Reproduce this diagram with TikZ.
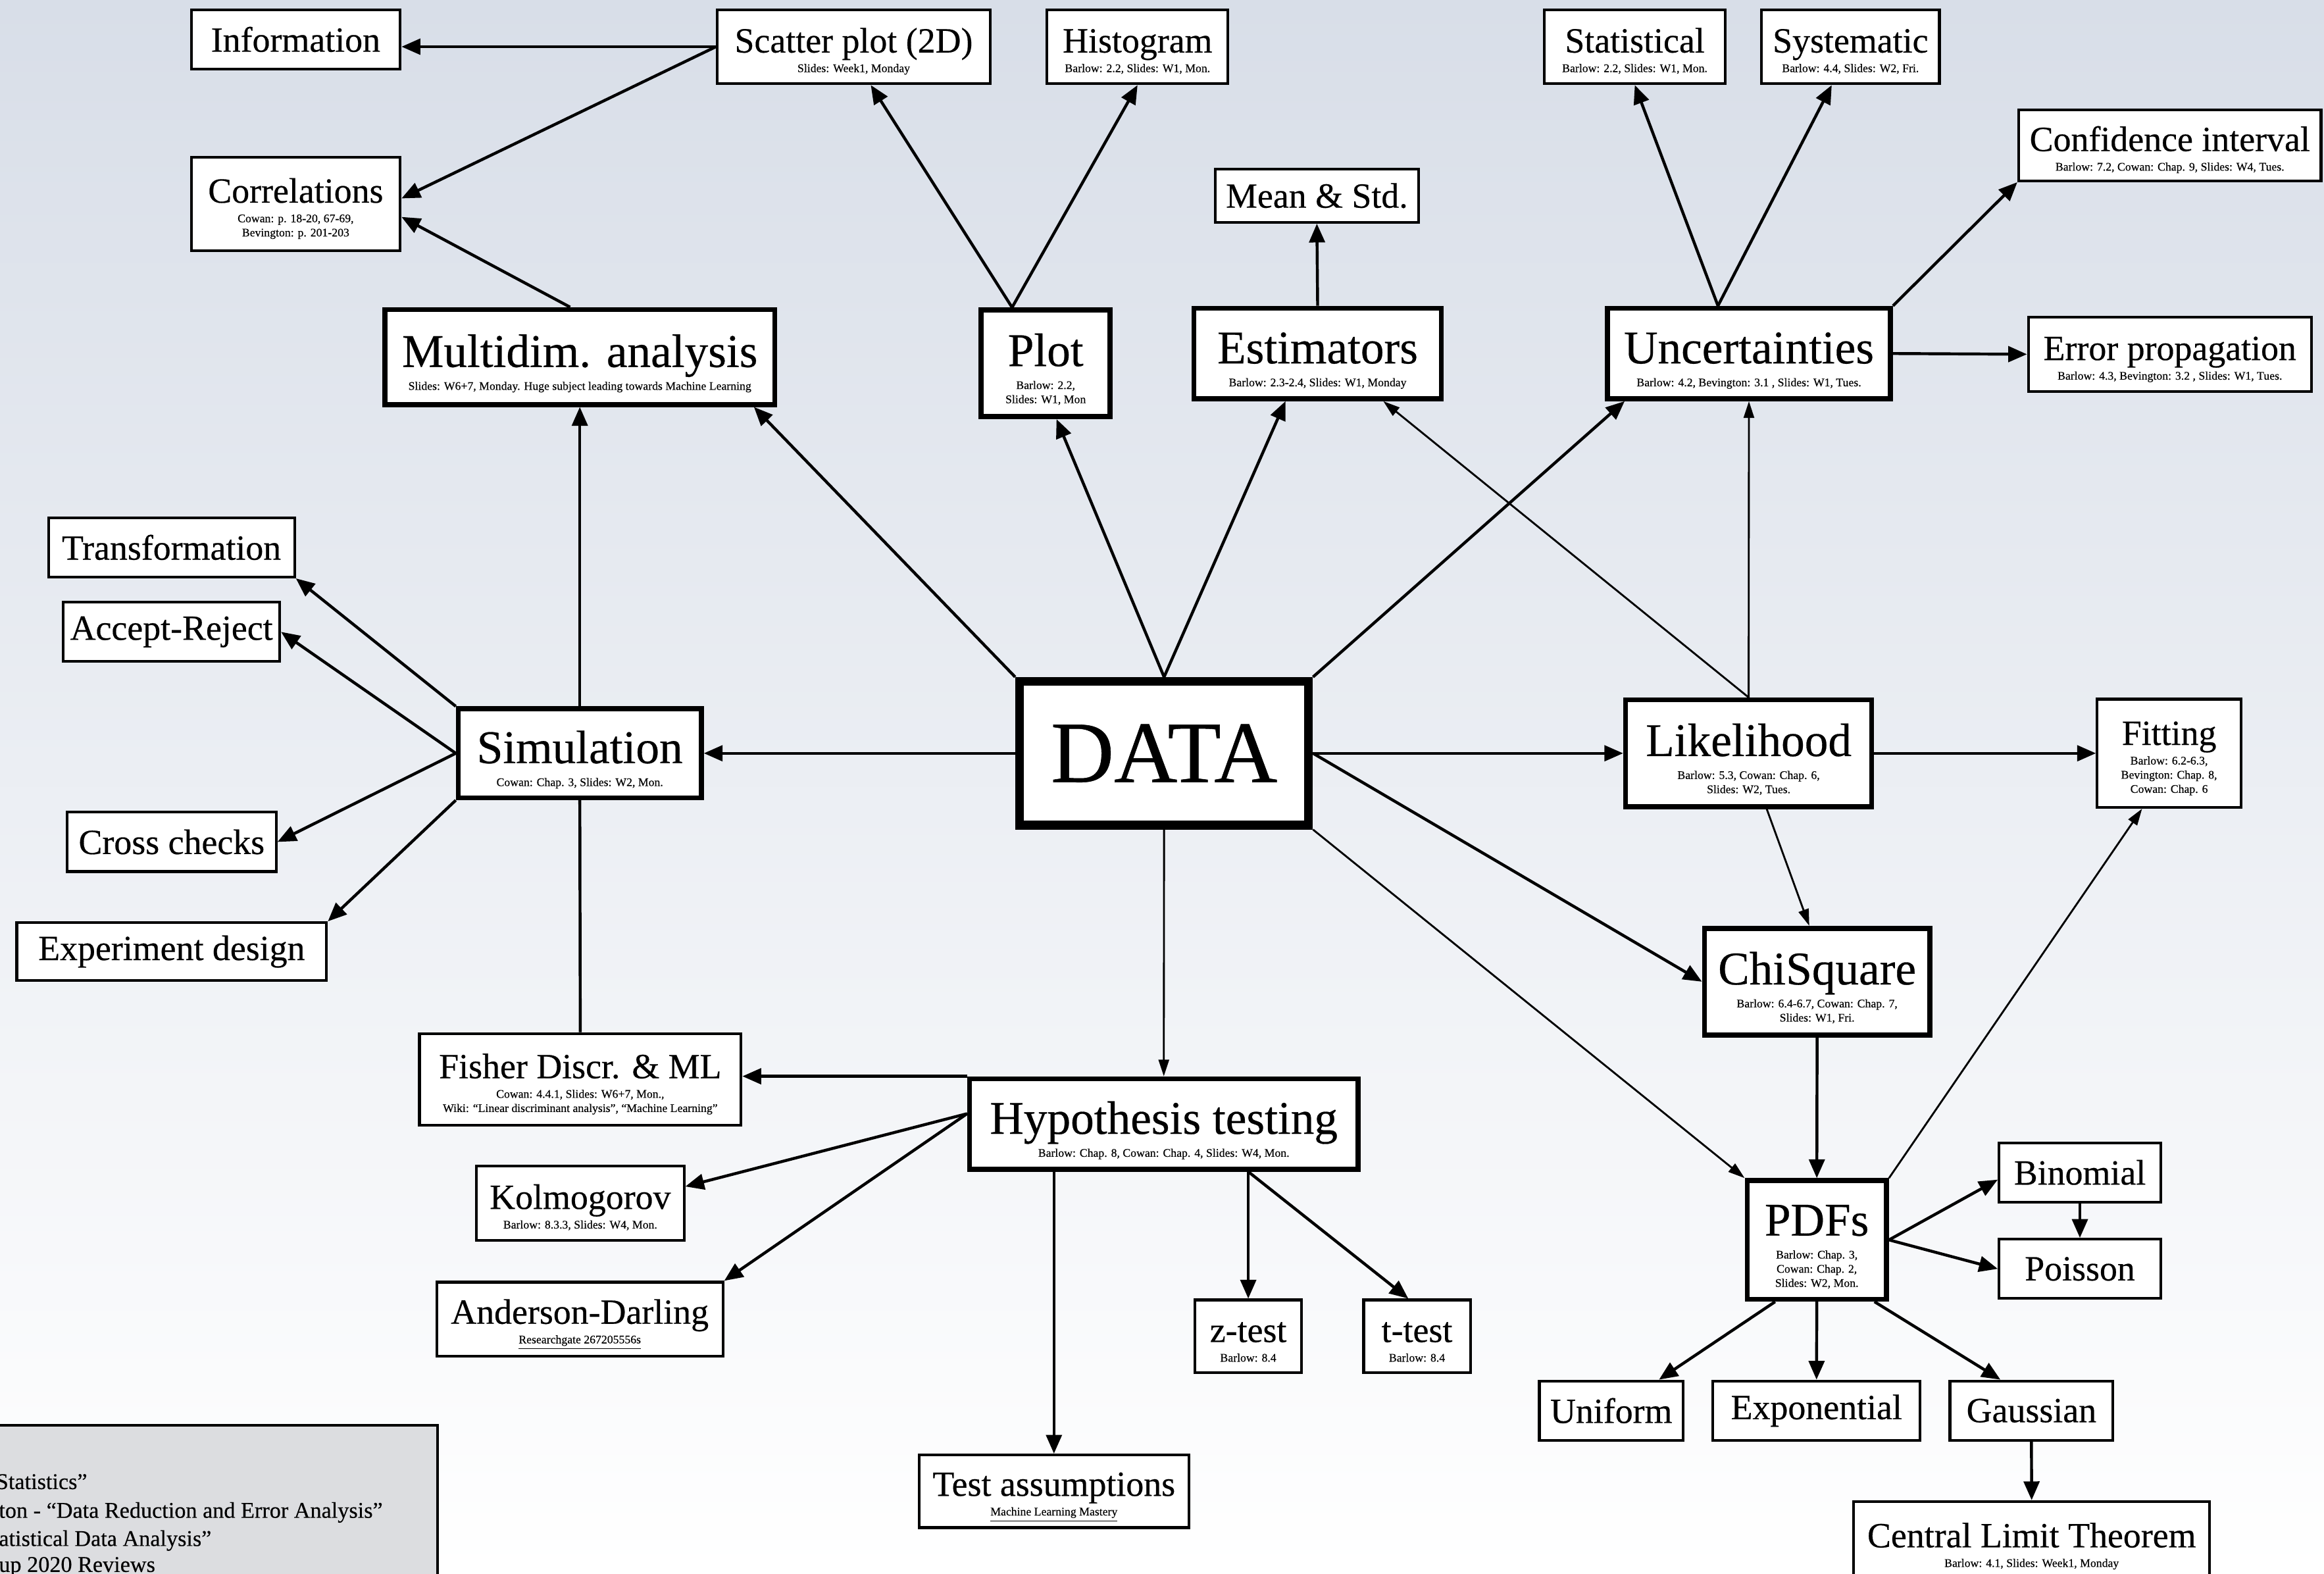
\documentclass[tikz,border=0pt]{standalone}
\usepackage{fontspec}
\setmainfont{Liberation Serif}[FakeBold=0.4]
\usetikzlibrary{arrows.meta, positioning}

\definecolor{chartA}{RGB}{216,222,232}
\definecolor{chartB}{RGB}{240,242,246}
\definecolor{refgray}{RGB}{220,221,224}

\newcommand{\px}{0.025cm}
\newcommand{\refgap}{-9.6pt}
\newcommand{\topic}[2]{\rule{0pt}{1em}#1\\[\refgap]{\fontsize{5.6}{6.8}\selectfont\begin{tabular}[t]{@{}c@{}}#2\end{tabular}}}

\begin{document}
\begin{tikzpicture}[x=\px, y=-\px, >={Triangle[length=9pt,width=7.5pt]},
	leaf/.style={rectangle, draw, fill=white, line width=1.3pt, align=center, inner sep=0pt, font=\fontsize{17}{19}\selectfont},
	hub/.style={leaf, line width=2.4pt, font=\fontsize{22.5}{25}\selectfont, execute at begin node={\def\refgap{-14pt}}},
	datanode/.style={hub, line width=4.2pt, font=\fontsize{42}{46}\selectfont},
	dim/.style 2 args={minimum width=#1*\px, minimum height=#2*\px},
	conn/.style={->, line width=1.4pt},
	slim/.style={line width=0.9pt, >={Triangle[length=8pt,width=5pt]}},
	refbox/.style={rectangle, draw, fill=refgray, line width=1.3pt, inner sep=0pt},
	reftext/.style={inner sep=0pt, anchor=base west, font=\fontsize{10.8}{12}\selectfont}]

	\useasboundingbox (0,0) rectangle (1568,1061.5);
	\clip (0,0) rectangle (1568,1061.5);
	\shade[top color=chartA, middle color=chartB, bottom color=white] (0,0) rectangle (1568,1061.5);

	%Top row.
	\node[leaf, dim={141}{40}] (info)    at (199.5,26.6)  {Information};
	\node[leaf, dim={184}{50}] (scatter) at (576,31.5)    {\topic{Scatter plot (2D)}{Slides: Week1, Monday}};
	\node[leaf, dim={122}{50}] (histo)   at (767.5,31.5)  {\topic{Histogram}{Barlow: 2.2, Slides: W1, Mon.}};
	\node[leaf, dim={122}{50}] (stat)    at (1103,31.5)   {\topic{Statistical}{Barlow: 2.2, Slides: W1, Mon.}};
	\node[leaf, dim={120}{50}] (syst)    at (1248.5,31.5) {\topic{Systematic}{Barlow: 4.4, Slides: W2, Fri.}};
	\node[leaf, dim={204}{48}] (confint) at (1464,98)     {\topic{Confidence interval}{Barlow: 7.2, Cowan: Chap. 9, Slides: W4, Tues.}};
	\node[leaf, dim={137}{36}] (meanstd) at (888.5,132)   {Mean \& Std.};
	\node[leaf, dim={141}{63}] (corr)    at (199.5,137.6) {\topic{Correlations}{Cowan: p. 18-20, 67-69,\\Bevington: p. 201-203}};

	\node[hub, dim={263}{64}]  (multi)   at (391.2,240.9) {\topic{Multidim. analysis}{Slides: W6+7, Monday. Huge subject leading towards Machine Learning}};
	\node[hub, dim={87}{72}]   (plot)    at (705.5,245.1) {\topic{Plot}{Barlow: 2.2,\\Slides: W1, Mon}};
	\node[hub, dim={167}{61}]  (estim)   at (889,238.5)   {\topic{Estimators}{Barlow: 2.3-2.4, Slides: W1, Monday}};
	\node[hub, dim={191}{61}]  (uncert)  at (1180,238.5)  {\topic{Uncertainties}{Barlow: 4.2, Bevington: 3.1 , Slides: W1, Tues.}};
	\node[leaf, dim={191}{50}] (errprop) at (1464,239)    {\topic{Error propagation}{Barlow: 4.3, Bevington: 3.2 , Slides: W1, Tues.}};

	%Simulation and its branches.
	\node[leaf, dim={166}{40}] (transf)  at (115.7,369.3) {Transformation};
	\node[leaf, dim={146}{40}] (accrej)  at (115.7,426.3) {Accept-Reject};
	\node[leaf, dim={141}{40}] (cross)   at (115.8,568)   {Cross checks};
	\node[leaf, dim={209}{39}] (expdes)  at (115.8,642)   {Experiment design};
	\node[hub, dim={164}{60}]  (sim)     at (391.2,508.2) {\topic{Simulation}{Cowan: Chap. 3, Slides: W2, Mon.}};

	\node[datanode, dim={195}{97}] (data) at (785.4,508.2) {DATA};
	\node[hub, dim={166}{72}]  (like)    at (1179.8,508.2) {\topic{Likelihood}{Barlow: 5.3, Cowan: Chap. 6,\\Slides: W2, Tues.}};
	\node[leaf, dim={97}{73}]  (fitting) at (1463.5,508.2) {\topic{Fitting}{Barlow: 6.2-6.3,\\Bevington: Chap. 8,\\Cowan: Chap. 6}};
	\node[hub, dim={152}{72}]  (chi)     at (1226,662.3)   {\topic{ChiSquare}{Barlow: 6.4-6.7, Cowan: Chap. 7,\\Slides: W1, Fri.}};

	%Hypothesis testing and its branches.
	\node[leaf, dim={217}{62}] (fisher)  at (391.5,728.3) {\topic{Fisher Discr. \& ML}{Cowan: 4.4.1, Slides: W6+7, Mon.,\\Wiki: ``Linear discriminant analysis'', ``Machine Learning''}};
	\node[hub, dim={262}{61}]  (hyp)     at (785.2,758.3) {\topic{Hypothesis testing}{Barlow: Chap. 8, Cowan: Chap. 4, Slides: W4, Mon.}};
	\node[leaf, dim={140}{50}] (kolm)    at (391.5,811.7) {\topic{Kolmogorov}{Barlow: 8.3.3, Slides: W4, Mon.}};
	\node[leaf, dim={193}{50}] (ad)      at (391.2,890)   {\topic{Anderson-Darling}{\underline{Researchgate 267205556s}}};
	\node[leaf, dim={72}{49}]  (ztest)   at (842.2,901.5) {\topic{z-test}{Barlow: 8.4}};
	\node[leaf, dim={72}{49}]  (ttest)   [right=1.0cm of ztest] {\topic{t-test}{Barlow: 8.4}};
	\node[leaf, dim={182}{49}] (testass) at (711.1,1006.1) {\topic{Test assumptions}{\underline{Machine Learning Mastery}}};

	%PDFs and the distributions.
	\node[hub, dim={94}{80}]   (pdfs)    at (1225.8,836.5) {\topic{PDFs}{Barlow: Chap. 3,\\Cowan: Chap. 2,\\Slides: W2, Mon.}};
	\node[leaf, dim={109}{40}] (binom)   at (1403.3,791)   {Binomial};
	\node[leaf, dim={109}{40}] (poisson) [below=0.58cm of binom] {Poisson};
	\node[leaf, dim={97}{40}]  (uniform) at (1087.1,951.7) {Uniform};
	\node[leaf, dim={140}{40}] (expo)    at (1225.6,951.7) {Exponential};
	\node[leaf, dim={110}{40}] (gauss)   at (1370.6,951.7) {Gaussian};
	\node[leaf, dim={240}{54}] (clt)     at (1370.75,1040) {\topic{Central Limit Theorem}{Barlow: 4.1, Slides: Week1, Monday}};

	%Reference box, cut by the page edge.
	\node[refbox, anchor=north east, minimum width=330*\px, minimum height=130*\px] (refs) at (296.2,960.7) {};
	\node[reftext] (ref1) at (-3,1004.6) {Statistics''};
	\node[reftext] (ref2) at (-1,1024)   {ton - ``Data Reduction and Error Analysis''};
	\node[reftext] (ref3) at (-1,1043)   {atistical Data Analysis''};
	\node[reftext] (ref4) at (-1,1060.5) {up 2020 Reviews};

	\path[conn] (scatter.west) edge (scatter.west -| info.east)
	            (scatter.west) edge (corr.3)
	            (multi.101)    edge (corr.-7)
	            (plot.121)     edge (scatter.-66)
	            (plot.121)     edge (histo.south)
	            (estim.north)  edge (meanstd.south)
	            (uncert.123)   edge (stat.south)
	            (uncert.123)   edge (syst.-116)
	            (uncert.north east) edge (confint.south west)
	            (uncert.east)  edge (errprop.west);

	%Spokes out of the data box.
	\path[conn] (data.north west) edge (multi.-16)
	            (data.north)      edge (plot.-79)
	            (data.north)      edge (estim.-124)
	            (data.north east) edge (uncert.-159)
	            (data.west)       edge (sim.east)
	            (data.east)       edge (like.west)
	            (data.east)       edge (chi.west)
	            (data.south east) edge [slim] (pdfs.north west)
	            (data.south)      edge [slim] (hyp.north);

	\path[conn] (like.north) edge [slim] (estim.-36)
	            (like.north) edge [slim] (uncert.south)
	            (like.east)  edge (fitting.west)
	            (like.-72)   edge [slim] (chi.98)
	            (chi.south)  edge (pdfs.north);

	\path[conn] (pdfs.north east) edge [slim] (fitting.-116)
	            (pdfs.east)  edge (binom.185)
	            (pdfs.east)  edge (poisson.west)
	            (binom.south) edge (poisson.north)
	            (pdfs.-124)  edge (uniform.33)
	            (pdfs.south) edge (expo.north)
	            (pdfs.-47)   edge (gauss.135)
	            (gauss.south) edge (clt.north);

	\draw[line width=1.4pt] (fisher.north) -- (sim.south);
	\path[conn] (sim.north)      edge (multi.south)
	            (sim.north west) edge (transf.south east)
	            (sim.west)       edge (accrej.east)
	            (sim.west)       edge (cross.east)
	            (sim.south west) edge (expdes.north east);

	\path[conn] (hyp.north west) edge (hyp.north west -| fisher.east)
	            (hyp.177) edge (kolm.9)
	            (hyp.177) edge (ad.north east)
	            (hyp.south -| testass.north) edge (testass.north)
	            (hyp.south -| ztest.north) edge (ztest.north)
	            (hyp.south -| ztest.north) edge (ttest.103);

\end{tikzpicture}
\end{document}
